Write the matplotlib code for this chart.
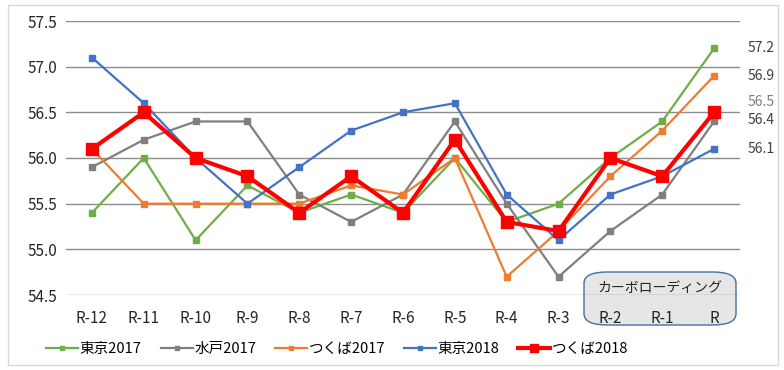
import matplotlib
matplotlib.use('Agg')
import matplotlib.pyplot as plt
from matplotlib.patches import FancyBboxPatch, Rectangle
import matplotlib.transforms as mtransforms

plt.rcParams['font.family'] = ['Noto Sans CJK JP', 'DejaVu Sans']

labels = ['R-12', 'R-11', 'R-10', 'R-9', 'R-8', 'R-7', 'R-6', 'R-5', 'R-4', 'R-3', 'R-2', 'R-1', 'R']
tokyo2017 = [55.4, 56.0, 55.1, 55.7, 55.4, 55.6, 55.4, 56.0, 55.3, 55.5, 56.0, 56.4, 57.2]
mito2017 = [55.9, 56.2, 56.4, 56.4, 55.6, 55.3, 55.6, 56.4, 55.5, 54.7, 55.2, 55.6, 56.4]
tsukuba2017 = [56.1, 55.5, 55.5, 55.5, 55.5, 55.7, 55.6, 56.0, 54.7, 55.2, 55.8, 56.3, 56.9]
tokyo2018 = [57.1, 56.6, 56.0, 55.5, 55.9, 56.3, 56.5, 56.6, 55.6, 55.1, 55.6, 55.8, 56.1]
tsukuba2018 = [56.1, 56.5, 56.0, 55.8, 55.4, 55.8, 55.4, 56.2, 55.3, 55.2, 56.0, 55.8, 56.5]

fig = plt.figure(figsize=(7.84, 3.70), dpi=100)
ax = fig.add_axes([66/784, 1-295/370, 674/784, 274/370])
ax.set_facecolor('none')

# 外枠
fig.patches.append(Rectangle((8/784, 5/370), 770/784, 360/370, transform=fig.transFigure,
                             fill=False, edgecolor='#d9d9d9', linewidth=1))

x = range(len(labels))
ax.plot(x, tokyo2017, color='#70ad47', lw=1.6, marker='s', ms=5, label='東京2017', zorder=3)
ax.plot(x, mito2017, color='#7f7f7f', lw=1.6, marker='s', ms=5, label='水戸2017', zorder=3)
ax.plot(x, tsukuba2017, color='#ed7d31', lw=1.6, marker='s', ms=5, label='つくば2017', zorder=3)
ax.plot(x, tokyo2018, color='#4472c4', lw=1.6, marker='s', ms=5, label='東京2018', zorder=3)
ax.plot(x, tsukuba2018, color='#ff0000', lw=3, marker='s', ms=9, label='つくば2018', zorder=4)

ax.set_xlim(-0.5, len(labels) - 0.5)
ax.set_ylim(54.5, 57.5)
ax.set_yticks([54.5, 55.0, 55.5, 56.0, 56.5, 57.0, 57.5])
ax.set_yticklabels(['54.5', '55.0', '55.5', '56.0', '56.5', '57.0', '57.5'])
ax.set_xticks(list(x))
ax.set_xticklabels(labels)
ax.tick_params(length=0, labelsize=11, colors='#262626')
ax.tick_params(axis='x', pad=11)
ax.tick_params(axis='y', pad=6)
ax.yaxis.grid(True, color='#8c8c8c', lw=1)
ax.set_axisbelow(True)
for s in ax.spines.values():
    s.set_visible(False)

# カーボローディング枠
box = FancyBboxPatch((584/784, 1-325/370), 152/784, 53/370, transform=fig.transFigure,
                     boxstyle='round,pad=0,rounding_size=0.03', facecolor='#e7e6e6',
                     edgecolor='#41719c', lw=1, zorder=0.2, clip_on=False)
ax.add_artist(box)
ax.text(660/784, 1-288/370, 'カーボローディング', transform=fig.transFigure, ha='center', va='center',
        fontsize=10, color='#262626', zorder=0.3)

# 右端の値
trans = mtransforms.blended_transform_factory(ax.transAxes, ax.transData)
ends = [(57.2, 57.2, '#404040'), (56.9, 56.9, '#404040'), (56.5, 56.61, '#7f7f7f'),
        (56.4, 56.42, '#404040'), (56.1, 56.1, '#404040')]
for v, ypos, c in ends:
    ax.text(1.011, ypos, f'{v:.1f}', transform=trans, ha='left', va='center', fontsize=10, color=c)

fig.legend(loc='center', bbox_to_anchor=(0.43, 1-349/370), ncol=5, frameon=False,
           fontsize=10.5, handlelength=2.2, handletextpad=0.1, columnspacing=1.3, markerscale=0.7)

fig.savefig('out.png', dpi=100)
